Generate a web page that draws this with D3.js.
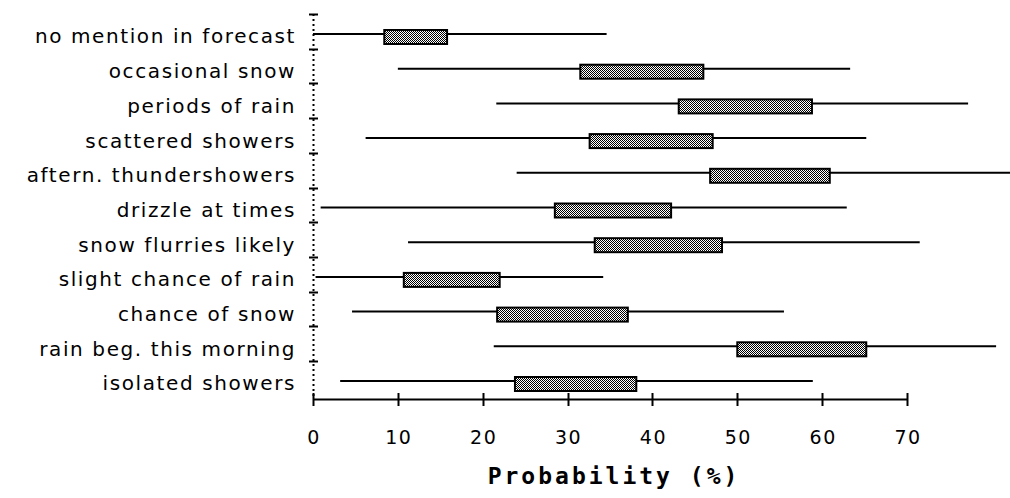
<!DOCTYPE html>
<html>
<head>
<meta charset="utf-8">
<script src="https://cdn.jsdelivr.net/npm/d3@7"></script>
<style>
  body { margin: 0; background: #fff; }
  text { font-family: "DejaVu Sans", sans-serif; fill: #000; }
</style>
</head>
<body>
<svg id="chart" width="1010" height="498"></svg>
<script>
var categories = [
  "no mention in forecast", "occasional snow", "periods of rain",
  "scattered showers", "aftern. thundershowers", "drizzle at times",
  "snow flurries likely", "slight chance of rain", "chance of snow",
  "rain beg. this morning", "isolated showers"
];
var lowValues  = [0.0, 10.0, 21.6, 6.2, 24.0, 0.9, 11.2, 0.3, 4.6, 21.3, 3.2];
var q1Values   = [8.4, 31.5, 43.1, 32.6, 46.8, 28.5, 33.2, 10.7, 21.7, 50.0, 23.8];
var q3Values   = [15.8, 46.0, 58.8, 47.1, 60.9, 42.2, 48.2, 22.0, 37.1, 65.2, 38.1];
var highValues = [34.6, 63.3, 77.2, 65.2, 82.5, 62.9, 71.5, 34.2, 55.5, 80.5, 58.9];
var xTicks = [0, 10, 20, 30, 40, 50, 60, 70];

var svg = d3.select("#chart");

var x = d3.scaleLinear().domain([0, 70]).range([313, 907]);
var y = d3.scalePoint().domain(categories).range([37, 384]);

// checker pattern for the boxes
var pat = svg.append("defs").append("pattern")
  .attr("id", "checker")
  .attr("width", 2).attr("height", 2)
  .attr("patternUnits", "userSpaceOnUse");
pat.append("rect").attr("width", 2).attr("height", 2).attr("fill", "#fff");
pat.append("rect").attr("width", 1).attr("height", 1).attr("fill", "#000");
pat.append("rect").attr("x", 1).attr("y", 1).attr("width", 1).attr("height", 1).attr("fill", "#000");

// dotted y axis with ticks
svg.append("line")
  .attr("x1", 313.5).attr("x2", 313.5)
  .attr("y1", 14).attr("y2", 399)
  .attr("stroke", "#000").attr("stroke-width", 2)
  .attr("stroke-dasharray", "2,3");

var yTicks = d3.range(categories.length).map(function(i) {
  return y(categories[i]) - 23;
});
svg.selectAll(".ytick")
  .data(yTicks)
  .enter().append("line")
  .attr("class", "ytick")
  .attr("x1", 309).attr("x2", 318)
  .attr("y1", function(d) { return Math.round(d) + 0.5; })
  .attr("y2", function(d) { return Math.round(d) + 0.5; })
  .attr("stroke", "#000").attr("stroke-width", 2);

svg.selectAll(".ylabel")
  .data(categories)
  .enter().append("text")
  .attr("class", "ylabel")
  .attr("x", 296)
  .attr("y", function(d) { return y(d); })
  .attr("text-anchor", "end")
  .attr("dy", "0.32em")
  .style("font-size", "20px")
  .style("letter-spacing", "1.6px")
  .text(function(d) { return d; });

// x axis
svg.append("line")
  .attr("x1", x(0)).attr("x2", x(70))
  .attr("y1", 399.5).attr("y2", 399.5)
  .attr("stroke", "#000").attr("stroke-width", 2);

svg.selectAll(".xtick")
  .data(xTicks)
  .enter().append("line")
  .attr("class", "xtick")
  .attr("x1", function(d) { return Math.round(x(d)) + 0.5; })
  .attr("x2", function(d) { return Math.round(x(d)) + 0.5; })
  .attr("y1", 393).attr("y2", 406)
  .attr("stroke", "#000").attr("stroke-width", 2);

svg.selectAll(".xlabel")
  .data(xTicks)
  .enter().append("text")
  .attr("class", "xlabel")
  .attr("x", function(d) { return x(d) + 1; })
  .attr("y", 444)
  .attr("text-anchor", "middle")
  .style("font-size", "19px")
  .style("letter-spacing", "1.5px")
  .text(function(d) { return d; });

svg.append("text")
  .attr("x", 614)
  .attr("y", 484)
  .attr("text-anchor", "middle")
  .style("font-family", "'DejaVu Sans Mono', monospace")
  .style("font-weight", "bold")
  .style("font-size", "23px")
  .style("letter-spacing", "3px")
  .text("Probability (%)");

// whiskers and boxes
var rows = svg.selectAll(".row")
  .data(categories)
  .enter().append("g")
  .attr("class", "row");

rows.append("line")
  .attr("x1", function(d, i) { return x(lowValues[i]); })
  .attr("x2", function(d, i) { return x(highValues[i]); })
  .attr("y1", function(d) { return y(d) - 3; })
  .attr("y2", function(d) { return y(d) - 3; })
  .attr("stroke", "#000").attr("stroke-width", 2);

rows.append("rect")
  .attr("x", function(d, i) { return x(q1Values[i]); })
  .attr("y", function(d) { return y(d) - 7; })
  .attr("width", function(d, i) { return x(q3Values[i]) - x(q1Values[i]); })
  .attr("height", 14)
  .attr("fill", "url(#checker)")
  .attr("stroke", "#000").attr("stroke-width", 2);
</script>
</body>
</html>
